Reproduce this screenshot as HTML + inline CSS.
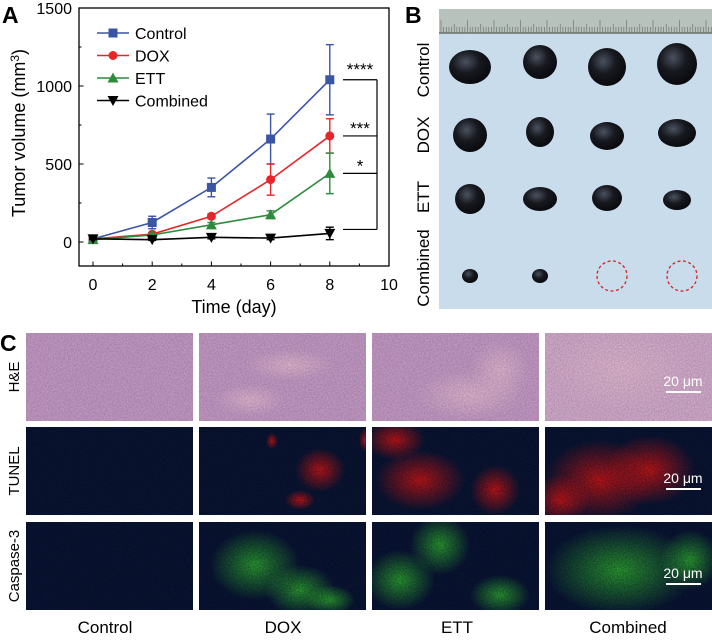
<!DOCTYPE html>
<html><head><meta charset="utf-8"><style>
body{margin:0;background:#fff;width:712px;height:642px;overflow:hidden}
svg{display:block;font-family:"Liberation Sans",Arial,sans-serif}
</style></head><body>
<svg id="fig" width="712" height="642" viewBox="0 0 712 642">
<defs id="defs">
<radialGradient id="blob" cx="40%" cy="35%" r="65%"><stop offset="0" stop-color="#4a5260"/><stop offset="0.5" stop-color="#17191f"/><stop offset="1" stop-color="#0a0a0e"/></radialGradient>
<filter id="noise" x="0" y="0" width="100%" height="100%"><feTurbulence type="fractalNoise" baseFrequency="0.7" numOctaves="2" seed="3"/><feColorMatrix type="matrix" values="0 0 0 0 0  0 0 0 0 0  0 0 0 0 0  0 0 0 0.55 0"/><feComposite in2="SourceGraphic" operator="in"/></filter>
<radialGradient id="red" r="50%"><stop offset="0" stop-color="#ff1818" stop-opacity="0.85"/><stop offset="1" stop-color="#ff1818" stop-opacity="0"/></radialGradient>
<radialGradient id="grn" r="50%"><stop offset="0" stop-color="#3ad83a" stop-opacity="0.8"/><stop offset="1" stop-color="#3ad83a" stop-opacity="0"/></radialGradient>
<radialGradient id="pink" r="50%"><stop offset="0" stop-color="#eec2dc" stop-opacity="0.9"/><stop offset="1" stop-color="#eec2dc" stop-opacity="0"/></radialGradient>
</defs>

<text x="2" y="23" font-size="23" font-weight="bold">A</text>
<g id="chart"></g>

<text x="405" y="23" font-size="23" font-weight="bold">B</text>
<g>
<rect x="439" y="33" width="273" height="276" fill="#c9dcec"/>
<rect x="439" y="9" width="273" height="24" fill="#b8c2bc"/>
<line x1="439" y1="33" x2="712" y2="33" stroke="#6a6e68" stroke-width="1.5"/>
<g id="ruler" stroke="#6f746e" stroke-width="0.7"></g>
<g id="tumors"></g>
<circle cx="612" cy="276" r="15" fill="none" stroke="#e02020" stroke-width="1.3" stroke-dasharray="3,2.5"/>
<circle cx="682" cy="276" r="15" fill="none" stroke="#e02020" stroke-width="1.3" stroke-dasharray="3,2.5"/>
</g>
<g font-size="17">
<text transform="translate(429,70) rotate(-90)" text-anchor="middle">Control</text>
<text transform="translate(429,135) rotate(-90)" text-anchor="middle">DOX</text>
<text transform="translate(429,197) rotate(-90)" text-anchor="middle">ETT</text>
<text transform="translate(429,268) rotate(-90)" text-anchor="middle">Combined</text>
</g>

<text x="0" y="351" font-size="23" font-weight="bold">C</text>
<g id="micro"></g>
<g font-size="15">
<text transform="translate(19,377) rotate(-90)" text-anchor="middle">H&amp;E</text>
<text transform="translate(19,471) rotate(-90)" text-anchor="middle">TUNEL</text>
<text transform="translate(19,566) rotate(-90)" text-anchor="middle">Caspase-3</text>
</g>
<g font-size="17" text-anchor="middle">
<text x="105" y="633">Control</text><text x="283" y="633">DOX</text><text x="457" y="633">ETT</text><text x="628" y="633">Combined</text>
</g>
</svg>
<script>
const NS='http://www.w3.org/2000/svg';
function mk(p,tag,at){const e=document.createElementNS(NS,tag);for(const k in at)e.setAttribute(k,at[k]);p.appendChild(e);return e;}
const days=[0,2,4,6,8];
const xTicks=[0,2,4,6,8,10];
const yTicks=[0,500,1000,1500];
const controlVals=[20,125,350,660,1040];
const controlErr=[5,40,60,160,225];
const doxVals=[20,50,165,400,680];
const doxErr=[5,10,15,100,110];
const ettVals=[15,45,110,175,440];
const ettErr=[5,10,15,25,130];
const combVals=[20,15,30,25,55];
const combErr=[5,5,10,10,40];
const seriesNames=['Control','DOX','ETT','Combined'];
const sigLabels=['****','***','*'];
const X0=79,X1=389,Y0=8,Y1=266;
const xs=v=>93+v*29.6;
const ys=v=>242-v*0.156;
const g=document.getElementById('chart');
let e=mk(g,'rect',{x:X0,y:Y0,width:X1-X0,height:Y1-Y0,fill:'none',stroke:'#000','stroke-width':1.3});


for(let t=0;t<=10;t++){mk(g,'line',{x1:xs(t),x2:xs(t),y1:Y1,y2:Y1-(t%2?2.5:4.5),stroke:'#000','stroke-width':1});}
xTicks.forEach(t=>{e=mk(g,'text',{x:xs(t),y:290,'font-size':16,'text-anchor':'middle'});e.textContent=t;

});
for(let v=0;v<=1500;v+=250){mk(g,'line',{x1:X0,x2:X0+(v%500?2.5:4.5),y1:ys(v),y2:ys(v),stroke:'#000','stroke-width':1});}
yTicks.forEach(t=>{e=mk(g,'text',{x:72,y:ys(t)+6,'font-size':16,'text-anchor':'end'});e.textContent=t;

});
e=mk(g,'text',{x:234,y:313,'font-size':18,'text-anchor':'middle'});e.textContent='Time (day)';


e=mk(g,'text',{transform:'translate(25,133) rotate(-90)','font-size':18,'text-anchor':'middle'});e.innerHTML='Tumor volume (mm<tspan dy="-6" font-size="12">3</tspan><tspan dy="6">)</tspan>';


const ser=[[controlVals,controlErr,'#3a55a4','sq'],[doxVals,doxErr,'#e8262a','ci'],[ettVals,ettErr,'#2e8b3e','tu'],[combVals,combErr,'#000','td']];
function marker(p,shape,x,y,c,s){
 if(shape==='sq')return mk(p,'rect',{x:x-s,y:y-s,width:2*s,height:2*s,fill:c});
 if(shape==='ci')return mk(p,'circle',{cx:x,cy:y,r:s,fill:c});
 if(shape==='tu')return mk(p,'polygon',{points:`${x-s-1},${y+s} ${x+s+1},${y+s} ${x},${y-s-1}`,fill:c});
 return mk(p,'polygon',{points:`${x-s-1},${y-s} ${x+s+1},${y-s} ${x},${y+s+1}`,fill:c});
}
ser.forEach((s,i)=>{
 const sg=mk(g,'g',{});
 
 
 mk(sg,'polyline',{points:days.map((d,j)=>xs(d)+','+ys(s[0][j])).join(' '),fill:'none',stroke:s[2],'stroke-width':1.6});
 days.forEach((d,j)=>{
  const x=xs(d),hi=ys(s[0][j]+s[1][j]),lo=ys(s[0][j]-s[1][j]);
  mk(sg,'line',{x1:x,x2:x,y1:hi,y2:lo,stroke:s[2],'stroke-width':1.4});
  mk(sg,'line',{x1:x-4,x2:x+4,y1:hi,y2:hi,stroke:s[2],'stroke-width':1.4});
  mk(sg,'line',{x1:x-4,x2:x+4,y1:lo,y2:lo,stroke:s[2],'stroke-width':1.4});
  const m=marker(sg,s[3],x,ys(s[0][j]),s[2],4.5);
  
  
 });
 const ly=33+i*22.5;
 const lg=mk(g,'g',{});
 
 
 mk(lg,'line',{x1:97,x2:129,y1:ly,y2:ly,stroke:s[2],'stroke-width':1.6});
 marker(lg,s[3],113,ly,s[2],4.5);
 const t=mk(lg,'text',{x:135,y:ly+6,'font-size':16});t.textContent=seriesNames[i];
});
const lastVals=[controlVals[4],doxVals[4],ettVals[4],combVals[4]];
const br=mk(g,'g',{stroke:'#000','stroke-width':1.2});


const bY=i=>i===3?ys(lastVals[3])-4:ys(lastVals[i]);
mk(br,'line',{x1:377,x2:377,y1:bY(0),y2:bY(3)});
lastVals.forEach((v,i)=>{mk(br,'line',{x1:343,x2:377,y1:bY(i),y2:bY(i)});});
sigLabels.forEach((s,i)=>{const t=mk(g,'text',{x:360,y:ys(lastVals[i])-2+(i===0?-3:0),'font-size':17,'text-anchor':'middle'});t.textContent=s;

});
const rl=document.getElementById('ruler');
for(let k=0;k<110;k++){const x=441+k*2.65;const h=k%10===0?13:(k%5===0?9:6);mk(rl,'line',{x1:x,x2:x,y1:33,y2:33-h});}
const tg=document.getElementById('tumors');
const tum=[[470,67,21,17],[540,62,17,17],[607,67,19,19],[677,64,20,21],
[470,135,17,17],[540,132,14,15],[607,136,17,14],[677,133,19,14],
[470,199,15,15],[540,199,17,12],[607,198,15,13],[677,200,14,10],
[470,276,8,7],[540,276,8,7]];
tum.forEach((t,i)=>{const el=mk(tg,'ellipse',{cx:t[0],cy:t[1],rx:t[2],ry:t[3],fill:'url(#blob)'});

});
const defs=document.getElementById('defs');
const mg=document.getElementById('micro');
const cols=[[26,167],[199,167],[372,167],[545,167]];
const rows=[[333,88],[427,88],[522,88]];
const bgs=['#d0a3d2','#050a1c','#040a1e'];
const blobs=[
 [[],[[290,365,45,16,'pink'],[250,400,35,16,'pink']],[[470,395,55,25,'pink'],[500,370,30,30,'pink']],[[620,370,70,40,'pink']]],
 [[],[[272,441,6,8,'red'],[320,470,25,22,'red'],[300,500,15,10,'red'],[365,440,6,12,'red']],[[420,480,45,30,'red'],[495,490,25,25,'red'],[395,440,30,20,'red']],[[600,480,55,40,'red'],[650,470,45,35,'red'],[560,500,30,25,'red']]],
 [[],[[255,565,45,35,'grn'],[300,590,35,25,'grn'],[330,600,25,15,'grn']],[[400,580,35,30,'grn'],[440,545,30,30,'grn'],[500,595,30,20,'grn']],[[620,570,75,45,'grn'],[690,560,30,30,'grn']]]
];
rows.forEach((r,ri)=>cols.forEach((c,ci)=>{
 const id='clip'+ri+ci;
 const cp=mk(defs,'clipPath',{id:id});
 mk(cp,'rect',{x:c[0],y:r[0],width:c[1],height:r[1]});
 const cg=mk(mg,'g',{'clip-path':'url(#'+id+')'});
 
 
 mk(cg,'rect',{x:c[0],y:r[0],width:c[1],height:r[1],fill:ri===0?(ci===3?'#e0b6da':bgs[0]):bgs[ri]});
 if(ri>0)mk(cg,'rect',{x:c[0],y:r[0],width:c[1],height:r[1],fill:'#1a3a8a',opacity:0.3});
 blobs[ri][ci].forEach(b=>mk(cg,'ellipse',{cx:b[0],cy:b[1],rx:b[2],ry:b[3],fill:'url(#'+b[4]+')'}));
 mk(cg,'rect',{x:c[0],y:r[0],width:c[1],height:r[1],fill:ri===0?'#5a1a7a':'#000',filter:'url(#noise)',opacity:ri===0?0.5:1});
}));
[[378,'20 μm'],[475,'20 μm'],[570,'20 μm']].forEach((s,i)=>{
 const sb=mk(mg,'g',{});
 
 
 const t=mk(sb,'text',{x:683,y:s[0]+8,'font-size':14,fill:'#fff','text-anchor':'middle'});t.textContent=s[1];
 mk(sb,'line',{x1:666,x2:701,y1:s[0]+14,y2:s[0]+14,stroke:'#fff','stroke-width':2});
});
</script>
</body></html>
